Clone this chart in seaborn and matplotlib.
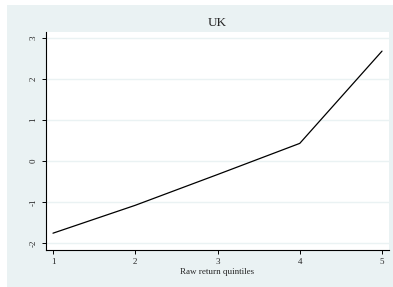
import matplotlib
matplotlib.use("Agg")
import matplotlib.pyplot as plt
import numpy as np
import pandas as pd
import seaborn as sns
from matplotlib.patches import Rectangle

quintiles = [1, 2, 3, 4, 5]
returns_uk = [-1.76, -1.08, -0.33, 0.43, 2.68]
y_ticks = [-2, -1, 0, 1, 2, 3]
title = "UK"
x_label = "Raw return quintiles"

BG = "#EAF2F3"
W, H = 393, 287

sns.set_style("white")
plt.rcParams["font.family"] = ["Liberation Serif", "DejaVu Serif"]

fig = plt.figure(figsize=(W / 100, H / 100), dpi=100)
fig.patch.set_facecolor("white")
# Stata-like graph region (light bluish gray), leaving a thin white margin left/top
fig.add_artist(Rectangle((7 / W, 0), 1 - 7 / W, 1 - 5 / H, transform=fig.transFigure,
                         facecolor=BG, edgecolor="none", zorder=-10))

ax = fig.add_axes([46 / W, (H - 250) / H, (389 - 46) / W, (250 - 32) / H])
ax.set_facecolor("white")
ax.set_zorder(1)

df = pd.DataFrame({"quintile": quintiles, "ret": returns_uk})
sns.lineplot(data=df, x="quintile", y="ret", color="black", linewidth=0.9, ax=ax)

ax.set_xlim(0.915, 5.085)
ax.set_ylim(-2.17, 3.146)
ax.set_xticks(quintiles)
ax.set_yticks(y_ticks)
ax.set_yticklabels([str(t) for t in y_ticks], rotation=90, va="center")
ax.yaxis.grid(True, color=BG, linewidth=1.0)
ax.xaxis.grid(False)
ax.set_axisbelow(True)

for side in ["top", "right"]:
    ax.spines[side].set_visible(False)
for side in ["left", "bottom"]:
    ax.spines[side].set_color("black")
    ax.spines[side].set_linewidth(0.8)

ax.tick_params(axis="both", which="major", direction="out", length=3, width=0.7,
               color="black", labelsize=6.5, left=True, bottom=True)
ax.tick_params(axis="y", pad=3)
ax.tick_params(axis="x", pad=2.5)

ax.set_xlabel(x_label, fontsize=6.5, labelpad=1.5)
ax.set_ylabel("")
fig.text(217.5 / W, 1 - 23 / H, title, ha="center", va="center", fontsize=9.5)

fig.savefig("out.png", dpi=100)
plt.close(fig)
